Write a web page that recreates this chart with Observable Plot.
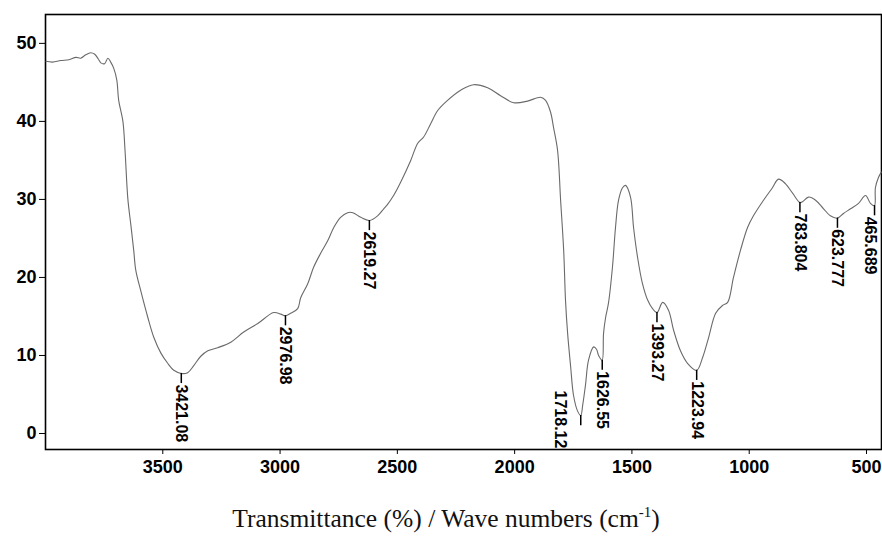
<!DOCTYPE html>
<html>
<head>
<meta charset="utf-8">
<script src="https://cdn.jsdelivr.net/npm/d3@7"></script>
<script src="https://cdn.jsdelivr.net/npm/@observablehq/plot@0.6"></script>
<style>
  html, body { margin: 0; padding: 0; background: white; }
  #chart { width: 882px; }
  #caption { width: 882px; box-sizing: border-box; padding-left: 10px; margin-top: 15px; text-align: center;
    font-family: "Liberation Serif", "Times New Roman", serif; font-size: 25.5px; line-height: 28px; color: #111; }
  #caption sup { font-size: 15px; line-height: 0; vertical-align: 10px; }
</style>
</head>
<body>
<div id="chart"></div>
<div id="caption">Transmittance (%) / Wave numbers (cm<sup>-1</sup>)</div>
<script>
// Wave numbers (cm-1) and transmittance (%)
const wave = [3998,3970,3935,3900,3870,3850,3830,3807,3790,3775,3764,3748,3734,3722,3709,3696,3688,3670,3661,3649,3636,3624,3615,3594,3564,3538,3508,3479,3453,3421,3394,3368,3338,3308,3266,3210,3155,3095,3027,2997,2977,2955,2925,2912,2882,2857,2827,2797,2771,2742,2712,2690,2656,2619,2584,2558,2541,2516,2486,2443,2413,2388,2358,2328,2286,2230,2175,2115,2060,2004,1945,1889,1868,1847,1834,1817,1804,1791,1783,1774,1761,1749,1732,1718,1710,1698,1685,1663,1651,1642,1627,1621,1612,1600,1583,1570,1557,1540,1527,1506,1493,1476,1455,1433,1412,1393,1369,1344,1322,1293,1263,1224,1199,1173,1143,1114,1092,1067,1037,1007,982,939,901,875,845,815,784,773,747,717,683,654,624,598,568,534,504,483,466,462,449,437];
const trans = [47.7,47.6,47.8,47.9,48.2,48.1,48.5,48.8,48.6,48.0,47.5,47.4,48.1,47.6,46.8,45.3,42.7,40.0,36.3,30.1,26.7,23.5,20.9,18.3,14.9,12.3,10.3,9.0,8.1,7.7,7.8,8.7,9.9,10.6,11.0,11.7,13.0,14.1,15.5,15.3,15.1,15.4,16.0,17.4,19.2,21.3,23.1,24.7,26.4,27.7,28.3,28.3,27.7,27.3,27.9,28.8,29.4,30.5,32.2,35.0,37.2,38.0,39.7,41.4,42.7,44.0,44.7,44.3,43.3,42.4,42.6,43.1,42.7,41.2,39.2,36.3,29.9,23.5,17.0,12.8,8.5,4.9,2.9,2.3,3.6,6.2,9.4,11.1,10.8,10.0,9.4,12.8,14.9,16.7,21.3,26.4,29.9,31.5,31.8,30.3,26.4,22.6,19.2,17.1,16.0,15.5,16.8,15.8,13.2,10.6,9.0,8.1,9.7,12.3,15.4,16.4,16.8,20.0,23.5,26.4,27.9,29.9,31.5,32.6,32.0,30.8,29.6,29.7,30.3,29.9,28.8,27.9,27.6,28.2,28.8,29.5,30.5,29.5,29.2,31.5,32.8,33.5];

// Annotated peaks
const peakLabels = ["3421.08","2976.98","2619.27","1718.12","1626.55","1393.27","1223.94","783.804","623.777","465.689"];
const peakValues = [7.7,15.1,27.3,2.3,9.4,15.5,8.1,29.6,27.6,29.2];

// Axis ticks
const xTicks = [3500,3000,2500,2000,1500,1000,500];
const yTicks = [0,10,20,30,40,50];

const spectrum = wave.map((w, i) => ({w, t: trans[i]}));
const peaks = peakLabels.map((l, i) => ({label: l, w: +l, v: peakValues[i]}));
const shiftedLeft = new Set(["1718.12"]);
const nearEdge = new Set(["465.689"]);
const plain = peaks.filter(d => !shiftedLeft.has(d.label) && !nearEdge.has(d.label));
const labelStyle = {x: "w", y: "v", text: "label", rotate: 90, textAnchor: "start", fontSize: 16, fontWeight: "bold", fill: "black"};

const chart = Plot.plot({
  width: 882,
  height: 490,
  marginLeft: 45,
  marginRight: 1,
  marginTop: 14,
  marginBottom: 41,
  style: {fontFamily: "'Liberation Sans', Arial, sans-serif", background: "white", color: "black"},
  x: {domain: [4000, 436], label: null},
  y: {domain: [-2.05, 53.7], label: null},
  marks: [
    Plot.axisX({ticks: xTicks, tickSize: 5, tickPadding: 6, fontSize: 18, fontWeight: "bold", label: null, tickFormat: d => String(d)}),
    Plot.axisY({ticks: yTicks, tickSize: 6, tickPadding: 3, fontSize: 18, fontWeight: "bold", label: null, tickFormat: d => String(d)}),
    Plot.frame({stroke: "black", strokeWidth: 1.6}),
    Plot.line(spectrum, {x: "w", y: "t", stroke: "#6a6a6a", strokeWidth: 1.1, curve: "catmull-rom"}),
    Plot.ruleX(peaks, {x: "w", y1: "v", y2: d => d.v - 1.3, stroke: "black", strokeWidth: 1.5}),
    Plot.text(plain, {...labelStyle, dy: 11}),
    Plot.text(peaks.filter(d => nearEdge.has(d.label)), {...labelStyle, dx: -4, dy: 11}),
    Plot.text(peaks.filter(d => shiftedLeft.has(d.label)), {...labelStyle, dx: -21, dy: -25})
  ]
});
document.getElementById("chart").appendChild(chart);
</script>
</body>
</html>
